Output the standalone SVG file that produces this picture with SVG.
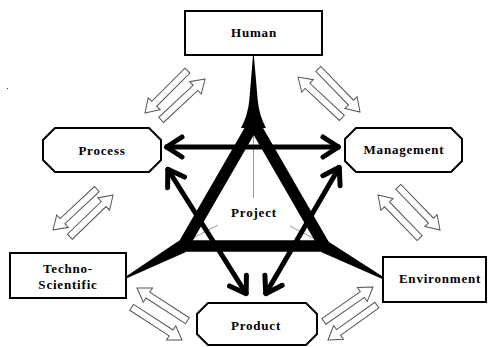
<svg xmlns="http://www.w3.org/2000/svg" xmlns:xlink="http://www.w3.org/1999/xlink" width="488" height="347" viewBox="0 0 488 347">
<style>
.box{fill:#fff;stroke:#000;stroke-width:2}
.lbl{font-family:"Liberation Serif","Times New Roman",serif;font-weight:bold;font-size:13px;letter-spacing:0.8px;fill:#000;text-anchor:middle}
.ha{fill:#fff;stroke:#555;stroke-width:1}
.thin{stroke:#999;stroke-width:1;fill:none}
.ta{stroke:#000;stroke-width:5;fill:none;marker-start:url(#ah);marker-end:url(#ah)}
</style>
<defs>
<path id="ba" d="M0,0 L-13,-8.5 L-13,-3.5 L-60,-3.5 L-60,3.5 L-13,3.5 L-13,8.5 Z"/>
<marker id="ah" viewBox="-22 -14 26 28" refX="0" refY="0" markerWidth="26" markerHeight="28" markerUnits="userSpaceOnUse" orient="auto-start-reverse" overflow="visible">
<path d="M-17,-10 L-1.5,0 L-17,10" fill="none" stroke="#000" stroke-width="5" stroke-linecap="round" stroke-linejoin="round"/>
</marker>
</defs>
<rect x="7" y="88" width="1" height="1" fill="#335"/>
<g id="hollow-arrows">
<use xlink:href="#ba" class="ha" transform="translate(145,113) rotate(135)"/>
<use xlink:href="#ba" class="ha" transform="translate(205,79) rotate(-43)"/>
<use xlink:href="#ba" class="ha" transform="translate(360,112) rotate(46)"/>
<use xlink:href="#ba" class="ha" transform="translate(298,77) rotate(-137)"/>
<use xlink:href="#ba" class="ha" transform="translate(53,230) rotate(137)"/>
<use xlink:href="#ba" class="ha" transform="translate(113,195) rotate(-44)"/>
<use xlink:href="#ba" class="ha" transform="translate(378,195) rotate(-134)"/>
<use xlink:href="#ba" class="ha" transform="translate(440,230) rotate(46)"/>
<use xlink:href="#ba" class="ha" transform="translate(137,288) rotate(-147)"/>
<use xlink:href="#ba" class="ha" transform="translate(182,340) rotate(33)"/>
<use xlink:href="#ba" class="ha" transform="translate(373,287) rotate(-35)"/>
<use xlink:href="#ba" class="ha" transform="translate(328,340) rotate(144.5)"/>
</g>
<g id="star">
<line class="thin" x1="253.5" y1="130" x2="253.5" y2="198"/>
<line class="thin" x1="193" y1="238" x2="218" y2="225"/>
<line class="thin" x1="290" y1="226" x2="313" y2="238"/>
<path d="M253.75,123.5 L324.5,246 L183,246 Z" fill="none" stroke="#000" stroke-width="11.5" stroke-linejoin="miter"/>
<path d="M253,55 L253.8,55 L256,80 L257.7,100 Q259,115 266,128 L241,128 Q248,115 249.3,100 L251,80 Z" fill="#000"/>
<polygon points="124.5,277.5 177,242 183,239 186,252 124.5,279.3" fill="#000"/>
<polygon points="383.5,277 329,242 323,239 321,252 383.5,279.5" fill="#000"/>
</g>
<g id="connectors">
<line class="ta" x1="165" y1="147" x2="340" y2="147"/>
<line class="ta" x1="167" y1="168" x2="247" y2="295"/>
<line class="ta" x1="340" y1="166" x2="265" y2="295"/>
</g>
<g id="human">
<rect class="box" x="185" y="11" width="137" height="44"/>
<text class="lbl" x="254" y="37">Human</text>
</g>
<g id="process">
<polygon class="box" points="55,128 149,128 161,140 161,160 149,172 55,172 43,160 43,140"/>
<text class="lbl" x="102" y="155">Process</text>
</g>
<g id="management">
<polygon class="box" points="356,128 451,128 462,139 462,161 451,172 356,172 345,161 345,139"/>
<text class="lbl" x="404" y="154">Management</text>
</g>
<g id="techno-scientific">
<rect class="box" x="10" y="253" width="116" height="45"/>
<text class="lbl" x="68" y="273">Techno-</text>
<text class="lbl" x="68" y="289">Scientific</text>
</g>
<g id="environment">
<rect class="box" x="383" y="257" width="103" height="45"/>
<text class="lbl" x="440" y="283">Environment</text>
</g>
<g id="product">
<polygon class="box" points="208,303 306,303 317,314 317,334 306,345 208,345 197,334 197,314"/>
<text class="lbl" x="256" y="330">Product</text>
</g>
<g id="project">
<text class="lbl" x="254" y="217">Project</text>
</g>
</svg>
